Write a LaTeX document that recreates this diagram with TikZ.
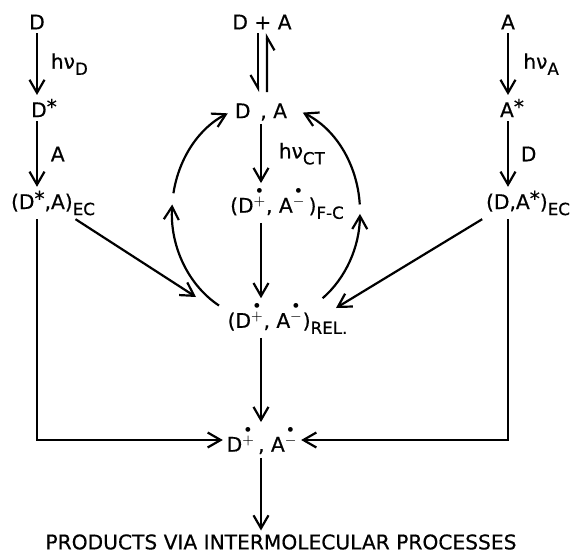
\documentclass[tikz,border=0pt]{standalone}
\usepackage{fontspec}
\setmainfont{DejaVu Sans}[FakeBold=0.5]
\usepackage{amsmath}
\usepackage{tikz}
\usetikzlibrary{arrows.meta, positioning, calc}

\newcommand{\radplus}{$^{\overset{\bullet}{+}}$}
\newcommand{\radminus}{$^{\overset{\bullet}{-}}$}
\newcommand{\excited}{\raisebox{0.3ex}{*}}
\newcommand{\lowtxt}[1]{\raisebox{-0.55ex}{\fontsize{9.5}{10}\selectfont #1}}

\begin{document}
\begin{tikzpicture}[
  node distance=1.72cm and 4.5cm, on grid,
  species/.style={font=\fontsize{11.5}{13}\selectfont, inner sep=2pt},
  cond/.style={font=\fontsize{11.5}{13}\selectfont, inner sep=1pt},
  rxn/.style={-{Straight Barb[length=2.6mm,width=3mm]}, line width=1.25pt},
  eqm/.style={-{Straight Barb[harpoon,swap,length=2.6mm,width=3mm]}, line width=1.25pt},
]
\useasboundingbox (0,0) rectangle (11.46,-11.14);

% Nodes
\node[species] (dd) at (0.74,-0.44) {D};
\node[species, below=of dd, xshift=0.14cm] (dstar) {D\excited};
\node[species, below=1.9cm of dstar, xshift=0.18cm] (dec) {(D\excited,A)\lowtxt{EC}};

\node[species, right=of dd] (dpa) {D + A};
\node[species, below=1.8cm of dpa, xshift=-0.02cm] (dca) {D \,, A};
\node[species, below=1.82cm of dca, xshift=0.52cm] (fc) {(D\radplus, A\radminus\,)\lowtxt{F-C}};
\node[species, below=2.3cm of fc, xshift=0.01cm] (rel) {(D\radplus, A\radminus)\lowtxt{REL.}};
\node[species, below=2.44cm of rel, xshift=-0.51cm] (ion) {D\radplus\,, A\radminus};
\node[species, below=2.04cm of ion, xshift=0.38cm] (prod) {PRODUCTS VIA INTERMOLECULAR PROCESSES};

\node[species, right=9.42cm of dd] (aa) {A};
\node[species, below=of aa, xshift=0.08cm] (astar) {A\excited};
\node[species, below=1.9cm of astar, xshift=0.32cm] (aec) {(D,A\excited)\lowtxt{EC}};

\coordinate (ring) at (5.32,-4.24);

% Edges
\draw[rxn] (dd) -- (dd |- dstar.north) node[cond, midway, right=0.22cm] {hν\lowtxt{D}};
\draw[rxn] (dd |- dstar.south) -- (dd |- dec.north) node[cond, midway, right=0.22cm] {A};
\draw[rxn] (dd |- dec.south) |- (ion);

\draw[rxn] (aa) -- (aa |- astar.north) node[cond, midway, right=0.25cm] {hν\lowtxt{A}};
\draw[rxn] (aa |- astar.south) -- (aa |- aec.north) node[cond, midway, right=0.2cm] {D};
\draw[rxn] (aa |- aec.south) |- (ion);

\draw[eqm, shorten >=0.15cm] ([xshift=-0.08cm]dpa.south) -- ([xshift=-0.06cm]dca.north);
\draw[eqm, shorten <=0.15cm] ([xshift=0.12cm]dca.north) -- ([xshift=0.1cm]dpa.south);
\draw[rxn] (dca) -- (dca |- fc.north) node[cond, midway, right=0.3cm] {hν\lowtxt{CT}};
\draw[rxn] (dca |- fc.south) -- (dca |- rel.north);
\draw[rxn] (dca |- rel.south) -- (dca |- ion.north);
\draw[rxn] (dca |- ion.south) -- (dca |- prod.north);

\draw[rxn] ([xshift=0.45cm]dec.south) -- ([xshift=-1.83cm,yshift=0.42cm]rel.center);
\draw[rxn] (aec.south west) -- ([xshift=0.97cm,yshift=0.2cm]rel.center);

% the ring
\draw[rxn] ($(ring)+(240:1.88 and 2.16)$) arc[start angle=240, end angle=176, x radius=1.88, y radius=2.16];
\draw[rxn] ($(ring)+(170:1.88 and 2.16)$) arc[start angle=170, end angle=114, x radius=1.88, y radius=2.16];
\draw[rxn] ($(ring)+(-53:1.88 and 2.16)$) arc[start angle=-53, end angle=-1, x radius=1.88, y radius=2.16];
\draw[rxn] ($(ring)+(4:1.88 and 2.16)$) arc[start angle=4, end angle=67, x radius=1.88, y radius=2.16];

\end{tikzpicture}
\end{document}
